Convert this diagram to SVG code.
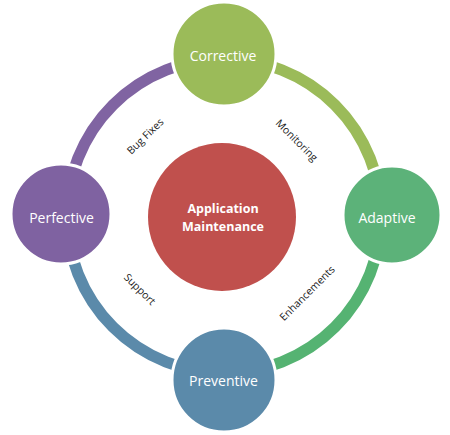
<svg xmlns="http://www.w3.org/2000/svg" width="450" height="435" viewBox="0 0 450 435">
<style>
.arc{fill:none;stroke-width:11.5}
.node{stroke:#ffffff;stroke-width:3}
.nt{font-family:"Open Sans","Noto Sans",sans-serif;font-size:14px;fill:#ffffff;text-anchor:middle;dominant-baseline:central}
.ct{font-family:"Open Sans","Noto Sans",sans-serif;font-size:12.5px;font-weight:bold;fill:#ffffff;text-anchor:middle;dominant-baseline:central}
.lt{font-family:"Open Sans","Noto Sans",sans-serif;font-size:10.5px;fill:#1a1a1a;text-anchor:middle;dominant-baseline:central}
</style>
<rect width="450" height="435" fill="#ffffff"/>
<g id="connectors">
<path class="arc" stroke="#8064A2" d="M67,216 A157,157 0 0 1 224,59"/>
<path class="arc" stroke="#9BBB59" d="M224,59 A157,157 0 0 1 381,216"/>
<path class="arc" stroke="#55B372" d="M381,216 A157,157 0 0 1 224,373"/>
<path class="arc" stroke="#5B8AAA" d="M224,373 A157,157 0 0 1 67,216"/>
<text class="lt" transform="translate(145,136) rotate(-44)">Bug Fixes</text>
<text class="lt" transform="translate(297,140) rotate(45)">Monitoring</text>
<text class="lt" transform="translate(307,293) rotate(-45)">Enhancements</text>
<text class="lt" transform="translate(140,289) rotate(45)">Support</text>
</g>
<g id="center">
<circle cx="222" cy="217" r="74" fill="#C0504D"/>
<text class="ct" x="223" y="208">Application</text>
<text class="ct" x="223" y="226">Maintenance</text>
</g>
<g id="corrective">
<circle class="node" cx="224" cy="54" r="52" fill="#9BBB59"/>
<text class="nt" x="223" y="55">Corrective</text>
</g>
<g id="adaptive">
<circle class="node" cx="392" cy="215" r="49" fill="#5CB279"/>
<text class="nt" x="387" y="217">Adaptive</text>
</g>
<g id="preventive">
<circle class="node" cx="224" cy="380" r="52" fill="#5B8AAA"/>
<text class="nt" x="223.5" y="380">Preventive</text>
</g>
<g id="perfective">
<circle class="node" cx="61" cy="214" r="50" fill="#7F62A1"/>
<text class="nt" x="61.5" y="217">Perfective</text>
</g>
</svg>
